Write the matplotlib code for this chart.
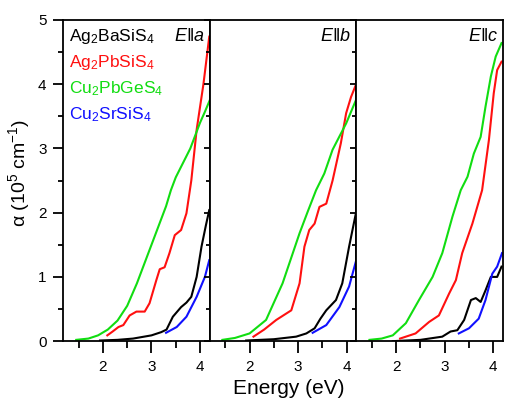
import matplotlib
matplotlib.use('Agg')
import matplotlib.pyplot as plt
from matplotlib.ticker import MultipleLocator

plt.rcParams['font.family'] = ['Liberation Sans', 'DejaVu Sans']
plt.rcParams['mathtext.fontset'] = 'custom'
plt.rcParams['mathtext.rm'] = 'Liberation Sans'
plt.rcParams['mathtext.it'] = 'Liberation Sans:italic'

compounds = ['Ag$_2$BaSiS$_4$', 'Ag$_2$PbSiS$_4$', 'Cu$_2$PbGeS$_4$', 'Cu$_2$SrSiS$_4$']
colors = ['black', '#ff1010', '#11dd11', '#1010ff']
panel_labels = [r'$E\Vert a$', r'$E\Vert b$', r'$E\Vert c$']

# E || a
a_black_E = [1.94, 2.3, 2.62, 3.0, 3.2, 3.31, 3.44, 3.61, 3.72, 3.82, 3.93, 4.03, 4.12, 4.19]
a_black_y = [0.01, 0.02, 0.04, 0.09, 0.14, 0.18, 0.38, 0.53, 0.6, 0.69, 1.0, 1.47, 1.8, 2.04]
a_red_E = [2.09, 2.2, 2.32, 2.42, 2.55, 2.69, 2.86, 2.96, 3.1, 3.17, 3.27, 3.37, 3.48, 3.61,
           3.72, 3.82, 3.93, 4.07, 4.19]
a_red_y = [0.09, 0.15, 0.22, 0.25, 0.4, 0.46, 0.46, 0.59, 0.95, 1.12, 1.15, 1.37, 1.65, 1.73,
           1.99, 2.5, 3.29, 4.0, 4.74]
a_green_E = [1.45, 1.7, 1.9, 2.1, 2.3, 2.5, 2.7, 2.9, 3.0, 3.1, 3.2, 3.3, 3.4, 3.5, 3.6, 3.7,
             3.8, 3.9, 4.0, 4.1, 4.2]
a_green_y = [0.02, 0.04, 0.09, 0.18, 0.32, 0.55, 0.9, 1.3, 1.5, 1.7, 1.9, 2.1, 2.35, 2.55, 2.7,
             2.85, 3.0, 3.2, 3.4, 3.57, 3.75]
a_blue_E = [3.3, 3.52, 3.72, 3.93, 4.1, 4.19]
a_blue_y = [0.13, 0.22, 0.38, 0.69, 1.0, 1.26]

# E || b
b_black_E = [1.93, 2.5, 2.96, 3.17, 3.34, 3.46, 3.58, 3.78, 3.91, 4.05, 4.19]
b_black_y = [0.01, 0.03, 0.07, 0.12, 0.2, 0.35, 0.48, 0.64, 0.9, 1.47, 1.99]
b_red_E = [2.08, 2.3, 2.55, 2.86, 3.03, 3.13, 3.23, 3.34, 3.44, 3.58, 3.71, 3.88, 3.99, 4.09, 4.19]
b_red_y = [0.07, 0.18, 0.33, 0.48, 0.9, 1.47, 1.73, 1.83, 2.09, 2.14, 2.5, 3.08, 3.55, 3.8, 3.99]
b_green_E = [1.44, 1.7, 2.0, 2.34, 2.68, 3.03, 3.2, 3.37, 3.54, 3.71, 3.99, 4.19]
b_green_y = [0.02, 0.05, 0.12, 0.33, 0.9, 1.68, 2.02, 2.35, 2.61, 2.98, 3.39, 3.75]
b_blue_E = [3.3, 3.58, 3.85, 4.05, 4.19]
b_blue_y = [0.13, 0.25, 0.53, 0.85, 1.24]

# E || c
c_black_E = [1.93, 2.5, 2.95, 3.12, 3.26, 3.4, 3.54, 3.64, 3.74, 3.84, 3.95, 4.08, 4.17]
c_black_y = [0.0, 0.02, 0.07, 0.15, 0.17, 0.33, 0.64, 0.67, 0.61, 0.79, 1.0, 1.0, 1.16]
c_red_E = [2.08, 2.4, 2.68, 2.88, 3.09, 3.23, 3.36, 3.57, 3.77, 3.91, 4.01, 4.08, 4.17]
c_red_y = [0.04, 0.12, 0.3, 0.4, 0.74, 0.95, 1.37, 1.83, 2.35, 3.13, 3.86, 4.22, 4.35]
c_green_E = [1.45, 1.7, 1.93, 2.2, 2.47, 2.75, 2.95, 3.16, 3.33, 3.47, 3.6, 3.74, 3.84, 3.95,
             4.05, 4.17]
c_green_y = [0.02, 0.04, 0.09, 0.28, 0.64, 1.0, 1.37, 1.94, 2.35, 2.56, 2.92, 3.18, 3.65, 4.12,
             4.43, 4.64]
c_blue_E = [3.29, 3.5, 3.7, 3.84, 3.98, 4.08, 4.18]
c_blue_y = [0.12, 0.2, 0.35, 0.64, 1.05, 1.16, 1.37]

panels = [
    [(a_black_E, a_black_y), (a_red_E, a_red_y), (a_green_E, a_green_y), (a_blue_E, a_blue_y)],
    [(b_black_E, b_black_y), (b_red_E, b_red_y), (b_green_E, b_green_y), (b_blue_E, b_blue_y)],
    [(c_black_E, c_black_y), (c_red_E, c_red_y), (c_green_E, c_green_y), (c_blue_E, c_blue_y)],
]

fig, axes = plt.subplots(1, 3, figsize=(5.05, 3.99), dpi=100, sharey=True)
fig.subplots_adjust(left=0.125, right=0.996, bottom=0.145, top=0.95, wspace=0)

for i, ax in enumerate(axes):
    for (E, y), c in zip(panels[i], colors):
        ax.plot(E, y, color=c, lw=1.5)
    ax.set_xlim(1.18, 4.2)
    ax.set_ylim(0, 5)
    ax.xaxis.set_major_locator(MultipleLocator(1))
    ax.xaxis.set_minor_locator(MultipleLocator(0.5))
    ax.yaxis.set_major_locator(MultipleLocator(1))
    ax.yaxis.set_minor_locator(MultipleLocator(0.5))
    ax.tick_params(axis='x', which='major', direction='out', length=8.5, width=1.3,
                   labelsize=11, pad=5)
    ax.tick_params(axis='x', which='minor', direction='out', length=5, width=1.3)
    # left ticks point outward, into the neighbouring panel
    ax.tick_params(axis='y', which='both', left=True, right=False, direction='out',
                   labelleft=(i == 0), labelsize=11, width=1.3, pad=5)
    ax.tick_params(axis='y', which='major', length=(7 if i == 0 else 4))
    ax.tick_params(axis='y', which='minor', length=(3.6 if i == 0 else 3))
    for s in ax.spines.values():
        s.set_linewidth(1.3)
    ax.text(0.965, 0.95, panel_labels[i], transform=ax.transAxes, ha='right', va='center',
            fontsize=13)

for j, (name, c) in enumerate(zip(compounds, colors)):
    axes[0].text(0.04, 0.95 - j * 0.082, name, color=c, transform=axes[0].transAxes,
                 ha='left', va='center', fontsize=12.5)

axes[1].set_xlabel('Energy (eV)', fontsize=15)
axes[1].xaxis.set_label_coords(0.54, -0.117)
fig.text(0.037, 0.567, 'α (10$^5$ cm$^{-1}$)', rotation=90, ha='center', va='center',
         fontsize=14)

plt.savefig('out.png', dpi=100)
